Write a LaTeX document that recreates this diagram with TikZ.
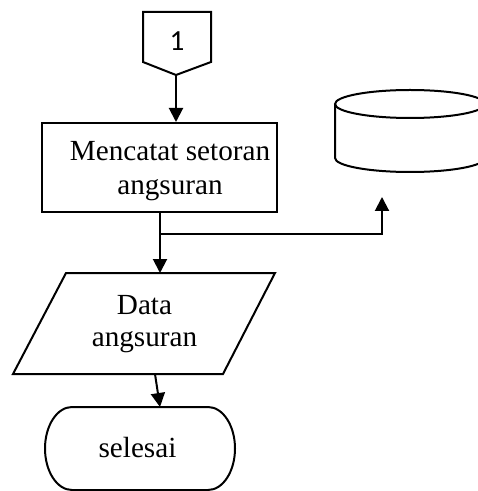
\documentclass[tikz,border=0pt]{standalone}
\usepackage{fontspec}
\setmainfont{Liberation Serif}
\newfontfamily\calibrifont{Carlito}
\usetikzlibrary{arrows.meta,calc}
\begin{document}
\begin{tikzpicture}[x=0.5pt,y=-0.5pt,
    line width=1pt,
    every node/.style={font=\fontsize{14.6}{17}\selectfont, align=center, inner sep=0pt},
    arr/.style={-{Triangle[length=7pt,width=7pt]}},
    shapeline/.style={draw, line join=miter}]
  \useasboundingbox (0,0) rectangle (477,491);

  % off-page connector
  \draw[shapeline] (143,12) -- (211,12) -- (211,62) -- (176,75) -- (143,62) -- cycle;
  \node[font=\calibrifont\fontsize{14.6}{18}\selectfont] (c1) at (177,41) {1};
  \coordinate (c1out) at (176,75);

  % process box
  \node[shapeline, minimum width=117.5pt, minimum height=44.5pt] (proc) at (159.5,167.5) {};
  \node (proctext) at (170,171.5) {Mencatat setoran\\angsuran};

  % storage (cylinder)
  \draw[shapeline] (335,104) -- (335,158)
    arc[start angle=180, end angle=360, x radius=37.5pt, y radius=7pt] -- (485,104);
  \draw[shapeline] (410,104) ellipse [x radius=37.5pt, y radius=7pt];
  \coordinate (dbin) at (382,197);

  % data (parallelogram)
  \draw[shapeline] (66,273) -- (275,273) -- (223,374) -- (13,374) -- cycle;
  \node[font=\fontsize{14.6}{16}\selectfont] (data) at (144.5,324.5) {Data\\angsuran};
  \coordinate (datain) at (160,273);
  \coordinate (dataout) at (155,374);

  % terminator with elliptical ends
  \draw[shapeline] (72,407) -- (208,407)
    arc[start angle=90, end angle=-90, x radius=13.5pt, y radius=20.75pt]
    -- (72,490)
    arc[start angle=270, end angle=90, x radius=13.5pt, y radius=20.75pt] -- cycle;
  \node[anchor=base] (term) at (137.5,457) {selesai};
  \coordinate (termin) at (160,407);

  % connectors
  \draw[arr] (c1out) -- (c1out |- proc.north);
  \draw[arr] (proc.south -| datain) -- (datain);
  \coordinate (split) at (160,234);
  \draw[arr] (split) -| (dbin);
  \draw[arr] (dataout) -- (termin);
\end{tikzpicture}
\end{document}
